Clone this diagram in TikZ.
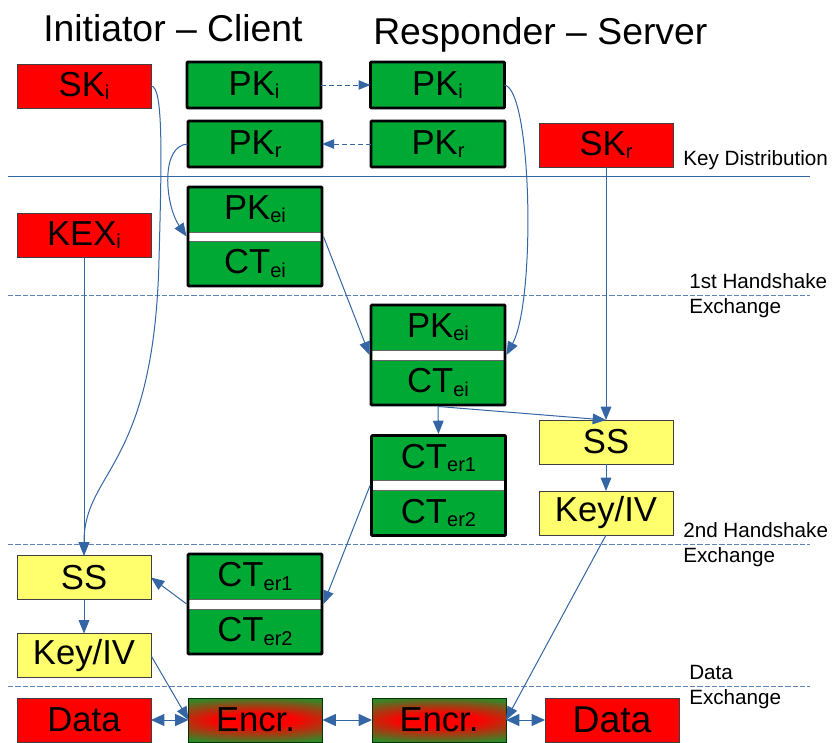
\documentclass[tikz,border=0pt]{standalone}
\usepackage{fontspec}
\setmainfont{Liberation Sans}
\usepackage{tikz}
\usetikzlibrary{arrows.meta,fit}

\definecolor{keyred}{HTML}{FF0000}
\definecolor{keygreen}{HTML}{00A933}
\definecolor{keyyellow}{HTML}{FFFF6D}
\definecolor{linkblue}{HTML}{3465A4}

\pgfdeclareradialshading{encglow}{\pgfpoint{0bp}{0bp}}{color(0bp)=(keyred); color(6bp)=(keyred); color(24bp)=(keygreen); color(50bp)=(keygreen)}

\newcommand{\lowidx}[1]{\raisebox{-2.4pt}{\fontsize{15pt}{15pt}\selectfont #1}}

\begin{document}
\begin{tikzpicture}[x=0.75pt,y=-0.75pt]

	\tikzset{box/.style={minimum width=100.5pt,minimum height=33pt,inner sep=0pt,outer sep=0pt,font=\fontsize{26pt}{30pt}\selectfont}};
	\tikzset{secret/.style={box,fill=keyred,draw=black!75,line width=0.6pt}};
	\tikzset{public/.style={box,minimum height=34.5pt,fill=keygreen,draw=black,line width=2.2pt,rounded corners=0.8pt}};
	\tikzset{half/.style={box,minimum height=33.75pt,fill=keygreen,draw=black!60,line width=0.5pt}};
	\tikzset{frame/.style={draw=black,line width=2.2pt,inner sep=0pt,rounded corners=0.8pt}};
	\tikzset{derived/.style={secret,fill=keyyellow}};
	\tikzset{cipher/.style={secret,draw=black!80!green,fill=keygreen,
		path picture={\shade[shading=encglow] (path picture bounding box.center) ellipse [x radius=118pt,y radius=21pt];}}};
	\tikzset{flow/.style={linkblue,line width=0.75pt,-{Triangle[length=10pt,width=8pt]}}};
	\tikzset{dashflow/.style={flow,dashed,dash pattern=on 4pt off 2pt,-{Triangle[length=9pt,width=7pt]}}};
	\tikzset{both/.style={linkblue,line width=0.75pt,{Triangle[length=10pt,width=9pt]}-{Triangle[length=10pt,width=9pt]}}};
	\tikzset{phase/.style={anchor=west,align=left,inner sep=0pt,font=\fontsize{15.5pt}{18.75pt}\selectfont}};
	\tikzset{side/.style={inner sep=0pt,font=\fontsize{28pt}{32pt}\selectfont}};

	\useasboundingbox (0,0) rectangle (834,742);

	% titles
	\node[side,anchor=base west] (tclient) at (43,42) {Initiator -- Client};
	\node[side,anchor=base west] (tserver) at (373,45) {Responder -- Server};

	% phase separators
	\draw[linkblue,line width=0.75pt] (8,176) -- (810,176);
	\foreach \y in {295,544,686}
		\draw[linkblue!80,line width=0.75pt,dash pattern=on 4pt off 1.5pt] (8,\y) -- (810,\y);

	\node[phase] (pkey) at (683,160) {Key Distribution};
	\node[phase] (phs1) at (689,296) {1st Handshake\\Exchange};
	\node[phase] (phs2) at (683,545) {2nd Handshake\\Exchange};
	\node[phase] (pdata) at (689,687) {Data\\Exchange};

	% key distribution
	\node[secret] (SKi) at (84,86) {SK\lowidx{i}};
	\node[public] (PKiL) at (254,85) {PK\lowidx{i}};
	\node[public] (PKiR) at (437.5,85) {PK\lowidx{i}};
	\node[public] (PKrL) at (255,144) {PK\lowidx{r}};
	\node[public] (PKrR) at (438,144) {PK\lowidx{r}};
	\node[secret] (SKr) at (606,145) {SK\lowidx{r}};

	% 1st handshake
	\node[secret] (KEXi) at (84,235) {KEX\lowidx{i}};
	\node[half] (eiLt) at (255,209.5) {PK\lowidx{ei}};
	\node[half] (eiLb) at (255,263.5) {CT\lowidx{ei}};
	\node[frame,fit=(eiLt)(eiLb)] (eiL) {};

	\node[half] (eiRt) at (438,327.5) {PK\lowidx{ei}};
	\node[half] (eiRb) at (438,382.5) {CT\lowidx{ei}};
	\node[frame,fit=(eiRt)(eiRb)] (eiR) {};

	\node[derived] (SSr) at (606,442) {SS};
	\node[derived] (KIVr) at (606,513) {Key/IV};

	% 2nd handshake
	\node[half] (erRt) at (438.5,458) {CT\lowidx{er1}};
	\node[half] (erRb) at (438.5,513) {CT\lowidx{er2}};
	\node[frame,fit=(erRt)(erRb)] (erR) {};

	\node[derived] (SSl) at (84,577.5) {SS};
	\node[half] (erLt) at (255,576.5) {CT\lowidx{er1}};
	\node[half] (erLb) at (255,631.5) {CT\lowidx{er2}};
	\node[frame,fit=(erLt)(erLb)] (erL) {};
	\node[derived] (KIVl) at (84,655.5) {Key/IV};

	% data exchange
	\node[secret] (DataL) at (84,720) {Data};
	\node[cipher] (EncL) at (255.5,720) {Encr.};
	\node[cipher] (EncR) at (439,720) {Encr.};
	\node[secret,font=\fontsize{28pt}{32pt}\selectfont] (DataR) at (612,720) {Data};

	% connectors
	\draw[dashflow] (PKiL) -- (PKiR);
	\draw[dashflow] (PKrR) -- (PKrL);
	\draw[flow] (SKi.east) .. controls (163,86) and (162,150) .. (159,260) .. controls (154,470) and (84,470) .. (SSl.north);
	\draw[flow] (PKrL.west) .. controls (160,145) and (165,205) .. (eiL.west);
	\draw[flow] (PKiR.east) .. controls (532,90) and (536,300) .. (eiR.east);
	\draw[flow] (eiL.east) -- (eiR.west);
	\draw[flow] (KEXi.south) -- (SSl.north);
	\draw[flow] (SKr.south) -- (SSr.north);
	\draw[flow] (eiR.south) -- (erR.north);
	\draw[flow] (eiR.south) -- (SSr.north);
	\draw[flow] (SSr) -- (KIVr);
	\draw[flow] (erR.west) -- (erL.east);
	\draw[flow] (erL.west) -- (SSl.east);
	\draw[flow] (SSl) -- (KIVl);
	\draw[flow] (KIVl.east) -- (EncL.west);
	\draw[flow] (KIVr.south) -- (EncR.east);
	\draw[both] (DataL) -- (EncL);
	\draw[both] (EncL) -- (EncR);
	\draw[both] (EncR) -- (DataR);

\end{tikzpicture}
\end{document}
